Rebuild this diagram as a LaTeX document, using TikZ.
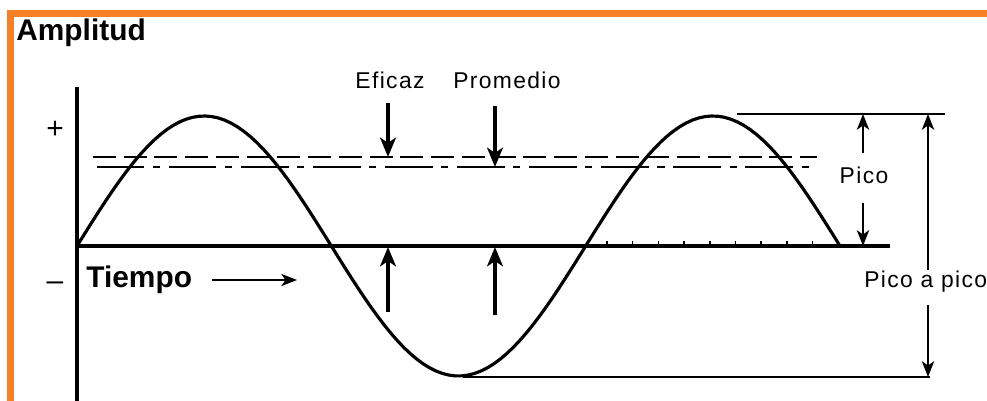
\documentclass[tikz,border=0pt]{standalone}
\usepackage{fontspec}
\setmainfont{Liberation Sans}
\newfontfamily\lblfont[LetterSpace=6]{Liberation Sans}
\usetikzlibrary{arrows.meta, positioning}
\definecolor{cFrame}{RGB}{247,128,38}

\begin{document}
\begin{tikzpicture}[x=0.02cm, y=-0.02cm,
    axis/.style={line width=2.3pt},
    wave/.style={line width=1.8pt, line join=round},
    thinline/.style={line width=1.1pt},
    marker/.style={line width=2pt, -{Stealth[length=11pt, width=9pt, inset=3pt]}},
    dimarrow/.style={line width=1pt, -{Stealth[length=9pt, width=7pt, inset=2.5pt]}},
    lbl/.style={inner sep=0pt, font=\lblfont\fontsize{13}{15}\selectfont},
    heading/.style={inner sep=0pt, font=\bfseries\fontsize{17}{19}\selectfont}]
    \useasboundingbox (0,0) rectangle (987,401);

    % Frame
    \draw[cFrame, line width=4pt] (987,13.5) -- (10.5,13.5) -- (10.5,401);

    % Axes
    \coordinate (O) at (77,246);
    \coordinate (Ytop) at (77,87);
    \coordinate (Ybot) at (77,401);
    \coordinate (Xend) at (890,246);
    \draw[axis] (Ytop) -- (Ybot);
    \draw[axis] (O) -- (Xend);
    \foreach \k in {0,...,8}
        \draw[line width=0.9pt] ({607+25.7*\k},246) -- ++(0,-5);

    % Signal
    \draw[wave] plot[domain=0:540, samples=120] ({77+\x*1.41296}, {246-130*sin(\x)});

    % Levels
    \coordinate (Ef) at (93,157);
    \coordinate (EfEnd) at (817,157);
    \coordinate (Pr) at (97,167);
    \coordinate (PrEnd) at (815,167);
    \draw[thinline, dash pattern=on 13pt off 4.5pt] (Ef) -- (EfEnd);
    \draw[thinline, dash pattern=on 27pt off 5pt on 4pt off 5pt] (Pr) -- (PrEnd);
    \coordinate (PkTop) at (737,114);
    \coordinate (PkTopEnd) at (945,114);
    \coordinate (PkBot) at (463,377);
    \coordinate (PkBotEnd) at (930,377);
    \draw[thinline] (PkTop) -- (PkTopEnd);
    \draw[thinline] (PkBot) -- (PkBotEnd);

    % Labels
    \node[heading, anchor=base west] (amp) at (16,41) {Amplitud};
    \node[heading, anchor=base west] (tiempo) at (86,288) {Tiempo};
    \node[font=\fontsize{17}{19}\selectfont] (plus) at (55,130) {+};
    \node[font=\fontsize{17}{19}\selectfont] (minus) at (55,286) {–};
    \node[lbl, anchor=base] (eficaz) at (390,89) {Eficaz};
    \node[lbl, anchor=base] (promedio) at (507,89) {Promedio};
    \node[lbl, anchor=base] (pico) at (864,184) {Pico};
    \node[lbl, anchor=base west] (pap) at (864,288) {Pico a pico};

    % Markers
    \coordinate (EfA) at (388,103);
    \coordinate (EfB) at (388,312);
    \coordinate (PrA) at (495,106);
    \coordinate (PrB) at (495,315);
    \draw[marker] (EfA) -- (388,157);
    \draw[marker] (PrA) -- (495,167);
    \draw[marker] (EfB) -- (388,247);
    \draw[marker] (PrB) -- (495,247);
    \coordinate (TA) at (212,280);
    \coordinate (TB) at (297,280);
    \draw[dimarrow, line width=0.8pt] (TA) -- (TB);

    % Peak and peak to peak
    \coordinate (PicoA) at (863,153);
    \coordinate (PicoB) at (863,203);
    \draw[dimarrow] (PicoA) -- (863,114);
    \draw[dimarrow] (PicoB) -- (863,246);
    \coordinate (PapA) at (928,270);
    \coordinate (PapB) at (928,305);
    \draw[dimarrow] (PapA) -- (928,114);
    \draw[dimarrow] (PapB) -- (928,377);

\end{tikzpicture}
\end{document}
